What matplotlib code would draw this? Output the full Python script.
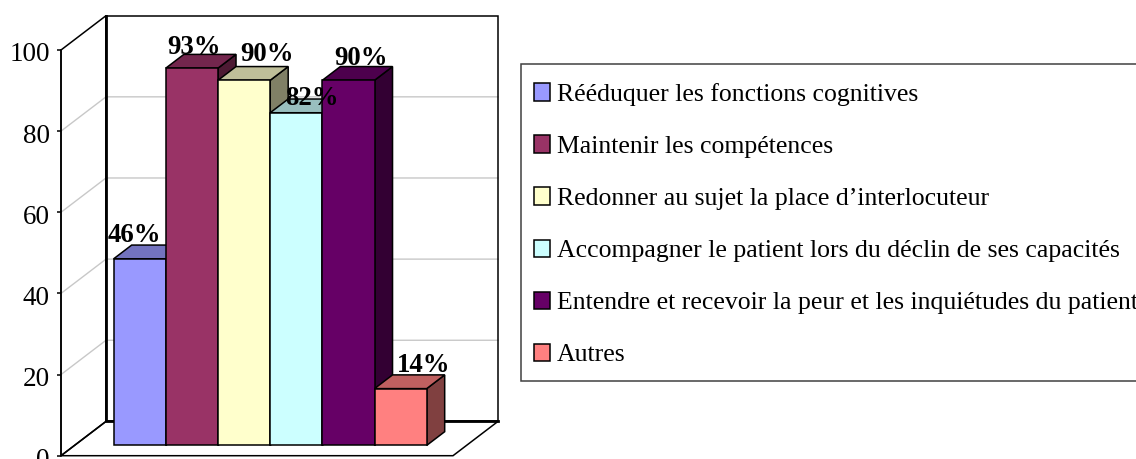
import matplotlib
matplotlib.use("Agg")
import matplotlib.pyplot as plt
from matplotlib.patches import Polygon, Patch, Rectangle
from matplotlib.colors import to_rgb
from matplotlib.transforms import ScaledTranslation

categories = ["Rééduquer les fonctions cognitives", "Maintenir les compétences",
              "Redonner au sujet la place d’interlocuteur",
              "Accompagner le patient lors du déclin de ses capacités",
              "Entendre et recevoir la peur et les inquiétudes du patient", "Autres"]
values = [46, 93, 90, 82, 90, 14]
colors = ["#9999FF", "#993366", "#FFFFCC", "#CCFFFF", "#660066", "#FF8080"]
yticks = [0, 20, 40, 60, 80, 100]

# label offsets from the front-top centre of each bar, in pixels (dx, dy up)
label_off = [(-5, 17), (2, 14), (23, 19), (16, 8), (13, 15), (23, 17)]

W, H, DPI = 1136, 459, 100
plt.rcParams["font.family"] = ["Liberation Serif", "DejaVu Serif"]
fig = plt.figure(figsize=(W / DPI, H / DPI), dpi=DPI, facecolor="white")
ax = fig.add_axes([61 / W, (H - 455.7) / H, 392 / W, 405.7 / H])
ax.set_xlim(-1.251, 6.263)
ax.set_ylim(0, 100)
ax.patch.set_visible(False)

# oblique depth: one unit of depth in data coordinates
DX, DY = 45 / 52.17, 34.3 / 4.057


def proj(x, v, d):
    return (x + d * DX, v + d * DY)


def poly(pts, fc="none", ec="black", lw=1.0, z=1):
    ax.add_patch(Polygon(pts, closed=True, facecolor=fc, edgecolor=ec, linewidth=lw,
                         zorder=z, clip_on=False, joinstyle="miter"))


x0, x1 = ax.get_xlim()
# grid on side and back walls
for t in yticks[1:-1]:
    ax.plot([x0, proj(x0, t, 1)[0], proj(x1, t, 1)[0]], [t, t + DY, t + DY],
            color="#C8C8C8", lw=1.0, zorder=1, clip_on=False)
# back wall, side wall, floor
poly([proj(x0, 0, 1), proj(x1, 0, 1), proj(x1, 100, 1), proj(x0, 100, 1)], lw=1.1, z=2)
poly([(x0, 0), proj(x0, 0, 1), proj(x0, 100, 1), (x0, 100)], lw=1.1, z=2)
poly([(x0, 0), (x1, 0), proj(x1, 0, 1), proj(x0, 0, 1)], lw=1.1, z=2)
ax.plot(*zip(proj(x0, 100, 1), proj(x0, 0, 1), proj(x1, 0, 1)), color="black", lw=2.0,
        zorder=2, clip_on=False, solid_joinstyle="miter")

# bars, painted left to right
D0, D1 = 0.30, 0.70
for i, (v, c) in enumerate(zip(values, colors)):
    l, r = i - 0.5, i + 0.5
    rgb = to_rgb(c)
    top = tuple(k * 0.75 for k in rgb)
    side = tuple(k * 0.5 for k in rgb)
    z = 3 + i
    poly([proj(r, 0, D0), proj(r, 0, D1), proj(r, v, D1), proj(r, v, D0)], side, lw=1.1, z=z)
    poly([proj(l, v, D0), proj(r, v, D0), proj(r, v, D1), proj(l, v, D1)], top, lw=1.1, z=z)
    poly([proj(l, 0, D0), proj(r, 0, D0), proj(r, v, D0), proj(l, v, D0)], c, lw=1.1, z=z)
    ax.annotate(f"{v}%", xy=proj(i, v, D0), xytext=label_off[i], textcoords="offset pixels",
                ha="center", va="baseline", fontsize=19.3, fontweight="bold", color="black",
                zorder=20, annotation_clip=False)

for s in ["top", "right", "bottom"]:
    ax.spines[s].set_visible(False)
ax.spines["left"].set_linewidth(1.1)
ax.spines["left"].set_zorder(2)
ax.set_xticks([])
ax.set_yticks(yticks)
ax.tick_params(axis="y", length=3, width=1.1, labelsize=19.5, pad=5)
ax.set_yticklabels([str(t) for t in yticks])
shift = ScaledTranslation(0, -2 / DPI, fig.dpi_scale_trans)
for lab in ax.get_yticklabels():
    lab.set_transform(lab.get_transform() + shift)

# legend frame runs off the right edge of the figure, as in the source
fig.add_artist(Rectangle((521 / W, (H - 381) / H), 700 / W, 317 / H, transform=fig.transFigure,
                         facecolor="white", edgecolor="#404040", linewidth=1.1, zorder=0))
handles = [Patch(facecolor=c, edgecolor="black", linewidth=1.1) for c in colors]
leg = fig.legend(handles, categories, loc="upper left",
                 bbox_to_anchor=(534 / W, (H - 83) / H), bbox_transform=fig.transFigure,
                 frameon=False, fontsize=18.55, borderpad=0, borderaxespad=0,
                 handlelength=0.62, handleheight=0.66, handletextpad=0.27, labelspacing=1.14)
fig.savefig("out.png", dpi=DPI)
